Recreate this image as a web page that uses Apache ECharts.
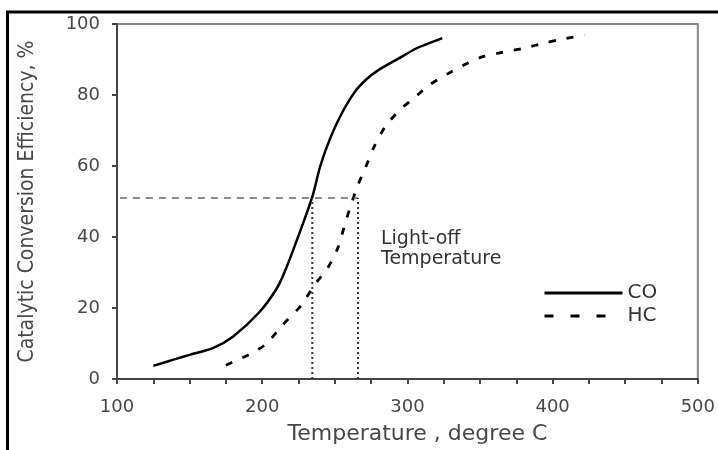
<!DOCTYPE html>
<html>
<head>
<meta charset="utf-8">
<script src="https://cdn.jsdelivr.net/npm/echarts@6/dist/echarts.min.js"></script>
<style>
  html, body { margin: 0; padding: 0; background: #fff; }
  #chart { width: 718px; height: 450px; }
</style>
</head>
<body>
<div id="chart"></div>
<script>
// CO curve (solid)
var coTemp = [125, 140, 150, 166, 180, 198, 210, 216, 228, 235, 240, 247, 255, 264, 272, 280, 294, 306, 315, 324];
var coEff  = [3.7, 5.6, 6.8, 8.7, 12, 18.8, 25.5, 30.7, 43.7, 52, 60, 68, 75, 81, 84.5, 87, 90.3, 93.1, 94.6, 96];
// HC curve (dashed)
var hcTemp = [175, 193.5, 203, 214, 227, 236, 245, 252, 256.5, 260, 265.5, 270.5, 277, 285, 296, 303, 315, 327, 341, 352, 370, 379, 396, 404, 422];
var hcEff  = [3.9, 7.4, 10, 15.2, 20.8, 26.5, 31.2, 36.8, 42.9, 47.6, 54.2, 58.9, 65.4, 71.3, 76.3, 78.6, 82.8, 85.8, 88.9, 90.8, 92.4, 93.1, 94.8, 95.5, 96.9];
// light-off guides
var lightOffTemp = [234.5, 266];
var lightOffEff = 51;
var guideStart = 102;

function pairs(xs, ys) {
  return xs.map(function (x, i) { return [x, ys[i]]; });
}

var myChart = echarts.init(document.getElementById('chart'));
var gray = '#474747';
var wideFont = '"DejaVu Sans", Verdana, sans-serif';
var option = {
  animation: false,
  backgroundColor: '#fff',
  grid: {
    left: 117, right: 17, top: 24, bottom: 71,
    show: true, borderColor: '#8a8a8a', borderWidth: 2
  },
  graphic: [
    {
      type: 'rect',
      shape: { x: 7.5, y: 12, width: 760, height: 500 },
      style: { fill: null, stroke: '#000', lineWidth: 3 }
    },
    {
      type: 'text', left: 381, top: 229,
      style: {
        text: 'Light-off\nTemperature',
        fontSize: 19, lineHeight: 20, fill: '#333',
        fontFamily: wideFont
      }
    }
  ],
  legend: {
    orient: 'vertical',
    left: 538, top: 278,
    itemWidth: 78, itemHeight: 16, itemGap: 3,
    itemStyle: { opacity: 0 },
    textStyle: { fontSize: 20, color: '#333', fontFamily: wideFont },
    data: [
      { name: 'CO', lineStyle: { color: '#000', width: 3, type: 'solid' } },
      { name: 'HC', lineStyle: { color: '#000', width: 3, type: [9, 17] } }
    ]
  },
  xAxis: {
    type: 'value',
    min: 100, max: 500, interval: 100,
    name: 'Temperature , degree C',
    nameLocation: 'middle',
    nameGap: 44,
    nameTextStyle: { fontSize: 22, color: gray, fontFamily: wideFont, padding: [0, 0, 0, 20] },
    axisLine: { lineStyle: { color: '#444', width: 2 } },
    axisTick: { length: 5, lineStyle: { color: '#444', width: 2 } },
    minorTick: { show: true, splitNumber: 4, length: 5, lineStyle: { color: '#444', width: 2 } },
    axisLabel: { fontSize: 18, color: gray, margin: 19, fontFamily: wideFont },
    splitLine: { show: false }
  },
  yAxis: {
    type: 'value',
    min: 0, max: 100, interval: 20,
    name: 'Catalytic Conversion Efficiency, %',
    nameLocation: 'middle',
    nameGap: 79,
    nameTextStyle: { fontSize: 21, color: gray, fontFamily: '"DejaVu Sans Condensed", "Liberation Sans Narrow", "Liberation Sans", sans-serif' },
    axisLine: { show: true, lineStyle: { color: '#444', width: 2 } },
    axisTick: { show: true, length: 5, lineStyle: { color: '#444', width: 2 } },
    axisLabel: { fontSize: 18, color: gray, margin: 17, fontFamily: wideFont },
    splitLine: { show: false }
  },
  series: [
    {
      name: 'CO', type: 'line', symbol: 'none', smooth: 0.25,
      lineStyle: { color: '#000', width: 2.5 },
      itemStyle: { color: '#000' },
      data: pairs(coTemp, coEff)
    },
    {
      name: 'HC', type: 'line', symbol: 'none', smooth: 0.25,
      lineStyle: { color: '#000', width: 2.8, type: [7, 11] },
      itemStyle: { color: '#000' },
      data: pairs(hcTemp, hcEff)
    },
    {
      name: 'guideH', type: 'line', symbol: 'none', silent: true,
      lineStyle: { color: '#666', width: 1.5, type: [7, 6] },
      data: [[guideStart, lightOffEff], [lightOffTemp[1], lightOffEff]]
    },
    {
      name: 'guideV1', type: 'line', symbol: 'none', silent: true,
      lineStyle: { color: '#333', width: 2, type: [2, 3] },
      data: [[lightOffTemp[0], 0], [lightOffTemp[0], lightOffEff]]
    },
    {
      name: 'guideV2', type: 'line', symbol: 'none', silent: true,
      lineStyle: { color: '#333', width: 2, type: [2, 3] },
      data: [[lightOffTemp[1], 0], [lightOffTemp[1], lightOffEff]]
    }
  ]
};
myChart.setOption(option, true);
</script>
</body>
</html>
